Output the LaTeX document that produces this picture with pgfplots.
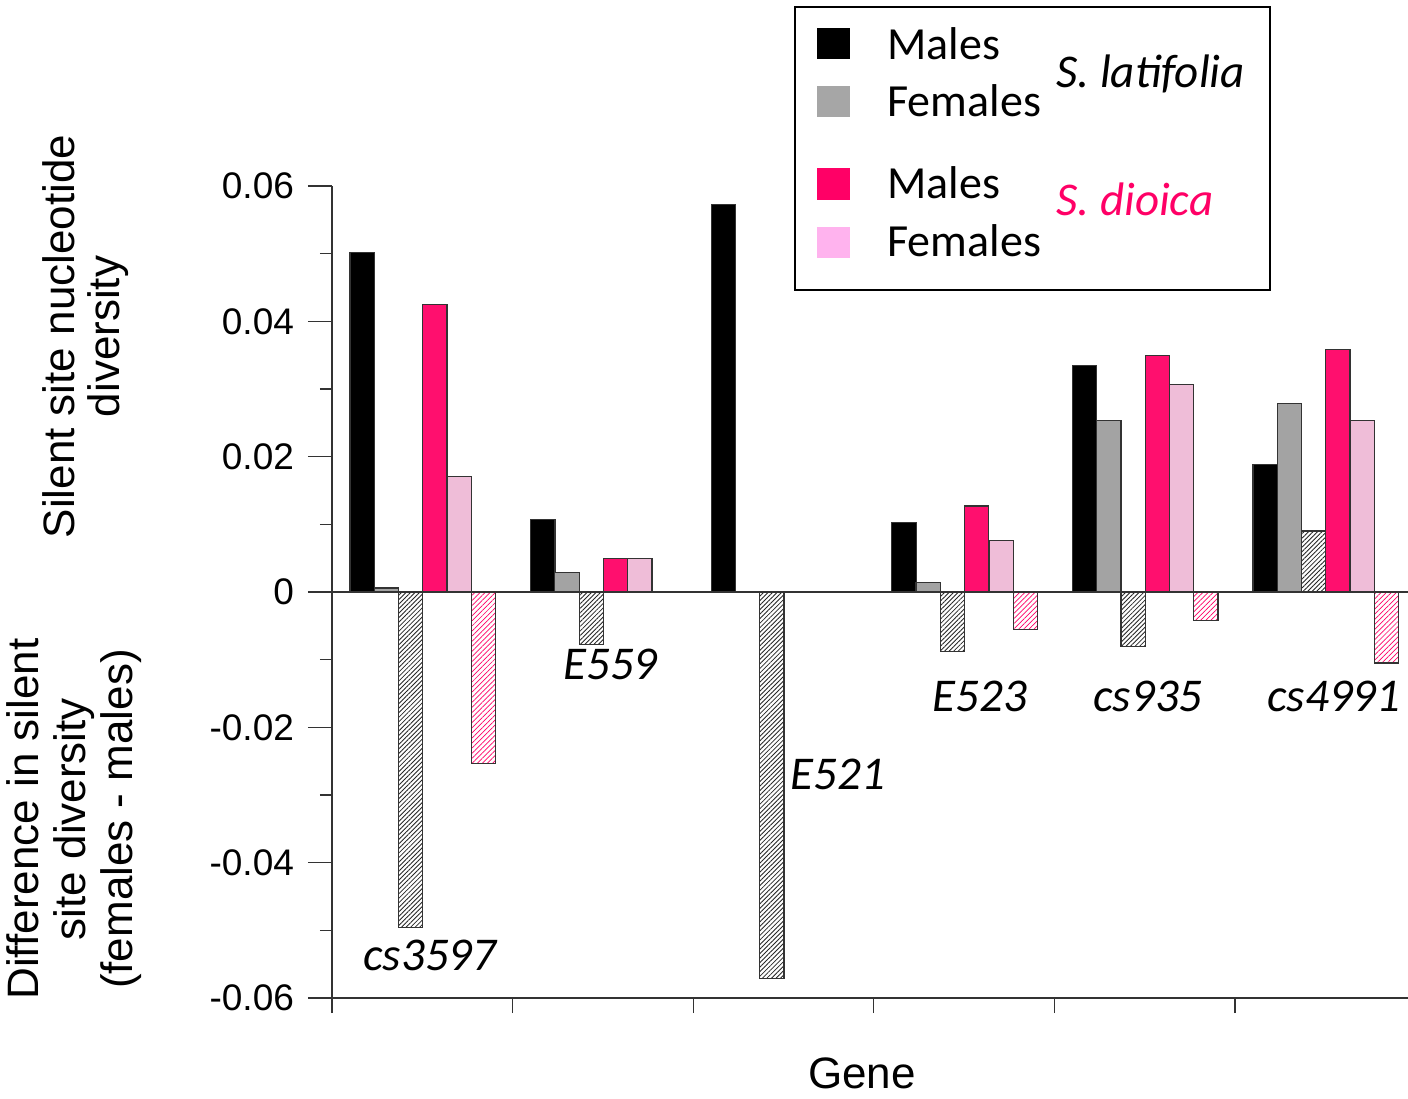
\documentclass[border=0pt]{standalone}
\usepackage{pgfplots}
\pgfplotsset{compat=1.18}
\usetikzlibrary{patterns.meta}
\usepackage{fontspec}
\setmainfont{Liberation Sans}
\newfontfamily\carlito{Carlito}
\definecolor{lgrey}{HTML}{A3A3A3}
\definecolor{spink}{HTML}{FF0F6E}
\definecolor{lpink}{HTML}{EFBDD8}
\definecolor{legpink}{HTML}{FF0066}
\definecolor{leglpink}{HTML}{FFB3EE}
\definecolor{leggrey}{HTML}{A6A6A6}
\definecolor{edge}{HTML}{333333}
\begin{document}
\begin{tikzpicture}
\useasboundingbox (-166pt,-50pt) rectangle (538pt,499pt);
\begin{axis}[
  at={(0pt,0pt)}, anchor=south west,
  scale only axis, width=538pt, height=406pt,
  xmin=0, xmax=5.958, ymin=-0.06, ymax=0.06,
  axis x line*=bottom, axis y line*=left,
  axis line style={-, draw=edge, line width=0.6pt},
  xtick={0,1,2,3,4,5}, xticklabels={},
  ytick={-0.06,-0.04,-0.02,0,0.02,0.04,0.06},
  yticklabels={-0.06,-0.04,-0.02,0,0.02,0.04,0.06},
  scaled y ticks=false,
  minor ytick={-0.05,-0.03,-0.01,0.01,0.03,0.05},
  tick align=outside,
  major tick length=12pt, minor tick length=6pt,
  xtick style={/pgfplots/major tick length=7.5pt},
  tick style={draw=edge, line width=0.6pt},
  yticklabel style={font=\fontsize{18.5}{20}\selectfont, xshift=-3.5pt},
  clip=false,
  every axis plot/.append style={ybar, bar shift=0pt, bar width=0.1346, draw=edge, line width=0.6pt},
]
\draw[edge, line width=0.6pt] (axis cs:0,0) -- (axis cs:5.958,0);
% S. latifolia males
\addplot[fill=black] coordinates {(0.167,0.0502) (1.167,0.0107) (2.167,0.0573) (3.167,0.0103) (4.167,0.0335) (5.167,0.0189)};
% S. latifolia females
\addplot[fill=lgrey] coordinates {(0.301,0.0006) (1.301,0.0029) (3.301,0.0014) (4.301,0.0254) (5.301,0.0278)};
% S. latifolia difference
\addplot[fill=white, postaction={pattern={Lines[angle=45,distance=1.6pt,line width=0.42pt]}, pattern color=black!85}]
  coordinates {(0.436,-0.0496) (1.436,-0.0078) (2.436,-0.0571) (3.436,-0.0088) (4.436,-0.0080) (5.436,0.0090)};
% S. dioica males
\addplot[fill=spink] coordinates {(0.570,0.0425) (1.570,0.0050) (3.570,0.0127) (4.570,0.0349) (5.570,0.0358)};
% S. dioica females
\addplot[fill=lpink] coordinates {(0.705,0.0171) (1.705,0.0050) (3.705,0.0076) (4.705,0.0307) (5.705,0.0254)};
% S. dioica difference
\addplot[fill=white, postaction={pattern={Lines[angle=45,distance=1.8pt,line width=0.35pt]}, pattern color=legpink}]
  coordinates {(0.839,-0.0253) (3.839,-0.0055) (4.839,-0.0042) (5.839,-0.0105)};
\end{axis}
% gene labels
\begin{scope}[every node/.style={anchor=base west, inner sep=0pt, font=\carlito\itshape\fontsize{23.5}{26}\selectfont}]
\node at (15.5pt,14pt) {cs3597};
\node at (115.5pt,159pt) {E559};
\node at (229pt,104pt) {E521};
\node at (300pt,143pt) {E523};
\node at (380.5pt,143pt) {cs935};
\node at (467.5pt,143pt) {cs4991};
\end{scope}
% axis titles
\node[rotate=90, align=center, font=\fontsize{22}{22.5}\selectfont] at (-123pt,330.75pt) {Silent site nucleotide\\diversity};
\node[rotate=90, align=center, font=\fontsize{22}{23.5}\selectfont] at (-129pt,89.5pt) {Difference in silent\\site diversity\\(females - males)};
\node[anchor=base, inner sep=0pt, font=\fontsize{22}{24}\selectfont] at (265pt,-45pt) {Gene};
% legend
\draw[black, line width=0.75pt] (231.5pt,354pt) rectangle (469pt,495.5pt);
\fill[black] (242.5pt,469.5pt) rectangle (259pt,485pt);
\fill[leggrey] (242.5pt,440.5pt) rectangle (259pt,456pt);
\fill[legpink] (242.5pt,399pt) rectangle (259pt,415pt);
\fill[leglpink] (242.5pt,370pt) rectangle (259pt,385.5pt);
\begin{scope}[every node/.style={anchor=base west, inner sep=0pt, font=\carlito\fontsize{23}{26}\selectfont}]
\node at (277.5pt,469pt) {Males};
\node at (277.5pt,440.5pt) {Females};
\node at (277.5pt,399.5pt) {Males};
\node at (277.5pt,370.5pt) {Females};
\node[font=\carlito\itshape\fontsize{23.5}{26}\selectfont] at (362pt,455pt) {S. latifolia};
\node[font=\carlito\itshape\fontsize{23.5}{26}\selectfont, text=legpink] at (362pt,391pt) {S. dioica};
\end{scope}
\end{tikzpicture}
\end{document}
